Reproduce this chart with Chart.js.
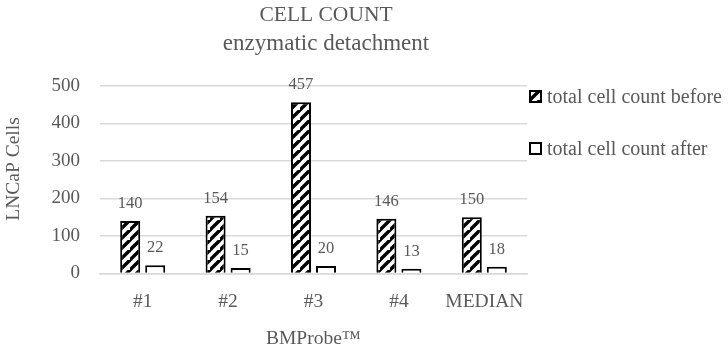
<!DOCTYPE html>
<html>
<head>
<meta charset="utf-8">
<script src="https://cdn.jsdelivr.net/npm/chart.js@4"></script>
<style>
  html, body { margin: 0; padding: 0; background: #fff; }
  #wrap { width: 728px; height: 351px; position: relative; }
</style>
</head>
<body>
<div id="wrap"><canvas id="c" width="728" height="351"></canvas></div>
<script>
const categories = ['#1', '#2', '#3', '#4', 'MEDIAN'];
const countBefore = [140, 154, 457, 146, 150];
const countAfter = [22, 15, 20, 13, 18];
const seriesNames = ['total cell count before', 'total cell count after'];
const titleText = 'CELL COUNT';
const subtitleText = 'enzymatic detachment';
const xTitle = 'BMProbe\u2122';
const yTitle = 'LNCaP Cells';

const FONT = '"Liberation Serif", "DejaVu Serif", serif';
const GREY = '#595959';

function makeHatch() {
  const s = 10;
  const p = document.createElement('canvas');
  p.width = s; p.height = s;
  const g = p.getContext('2d');
  g.fillStyle = '#fff';
  g.fillRect(0, 0, s, s);
  g.strokeStyle = '#000';
  g.lineWidth = 3.4;
  g.beginPath();
  g.moveTo(-2, s + 2); g.lineTo(s + 2, -2);
  g.moveTo(-2 - s, s + 2); g.lineTo(2, -2);
  g.moveTo(s - 2, 2 * s + 2); g.lineTo(2 * s + 2, s - 2);
  g.stroke();
  return document.getElementById('c').getContext('2d').createPattern(p, 'repeat');
}
const hatch = makeHatch();

const overlay = {
  id: 'overlay',
  afterDatasetsDraw(chart) {
    const ctx = chart.ctx;
    ctx.save();
    // data labels
    ctx.fillStyle = GREY;
    ctx.font = '16.5px ' + FONT;
    ctx.textAlign = 'center';
    ctx.textBaseline = 'alphabetic';
    chart.data.datasets.forEach((ds, di) => {
      const meta = chart.getDatasetMeta(di);
      meta.data.forEach((bar, i) => {
        ctx.fillText(String(ds.data[i]), bar.x, bar.y - 13);
      });
    });
    // titles
    ctx.font = '21.5px ' + FONT;
    ctx.fillText(titleText, 326, 21);
    ctx.font = '23px ' + FONT;
    ctx.fillText(subtitleText, 326, 50);
    // y axis title
    ctx.save();
    ctx.translate(14, 169);
    ctx.rotate(-Math.PI / 2);
    ctx.textBaseline = 'middle';
    ctx.font = '19.5px ' + FONT;
    ctx.fillText(yTitle, 0, 0);
    ctx.restore();
    // legend
    const items = [
      { top: 91, base: 103, fill: hatch },
      { top: 143, base: 155, fill: '#fff' }
    ];
    ctx.textAlign = 'left';
    ctx.font = '20px ' + FONT;
    items.forEach((it, k) => {
      ctx.fillStyle = it.fill;
      ctx.fillRect(530, it.top, 11, 11);
      ctx.strokeStyle = '#000';
      ctx.lineWidth = 2;
      ctx.strokeRect(530, it.top, 11, 11);
      ctx.fillStyle = GREY;
      ctx.fillText(seriesNames[k], 547, it.base);
    });
    ctx.restore();
  }
};

new Chart(document.getElementById('c'), {
  type: 'bar',
  data: {
    labels: categories,
    datasets: [
      {
        label: seriesNames[0],
        data: countBefore,
        backgroundColor: hatch,
        borderColor: '#000',
        borderWidth: 2,
        categoryPercentage: 0.586,
        barPercentage: 0.8
      },
      {
        label: seriesNames[1],
        data: countAfter,
        backgroundColor: '#fff',
        borderColor: '#000',
        borderWidth: 2,
        categoryPercentage: 0.586,
        barPercentage: 0.8
      }
    ]
  },
  options: {
    responsive: false,
    animation: false,
    devicePixelRatio: 1,
    layout: { padding: { top: 86, right: 201, left: 28, bottom: 0 } },
    plugins: {
      legend: { display: false },
      title: { display: false },
      tooltip: { enabled: false }
    },
    scales: {
      x: {
        grid: { display: false, drawTicks: false },
        border: { display: true, color: '#d9d9d9', width: 1.5 },
        ticks: { color: GREY, font: { family: FONT, size: 19.5 }, padding: 16.5, maxRotation: 0 },
        title: { display: true, text: xTitle, color: GREY, font: { family: FONT, size: 19.5 }, padding: { top: 0, bottom: 0 } },
        afterFit(scale) { scale.height = 77.5; }
      },
      y: {
        min: 0, max: 500,
        ticks: { stepSize: 100, color: GREY, font: { family: FONT, size: 19 }, padding: 20 },
        grid: { color: '#d9d9d9', lineWidth: 1.5, drawTicks: false },
        border: { display: false },
        title: { display: false },
        afterFit(scale) { scale.width = 72; }
      }
    }
  },
  plugins: [overlay]
});
</script>
</body>
</html>
